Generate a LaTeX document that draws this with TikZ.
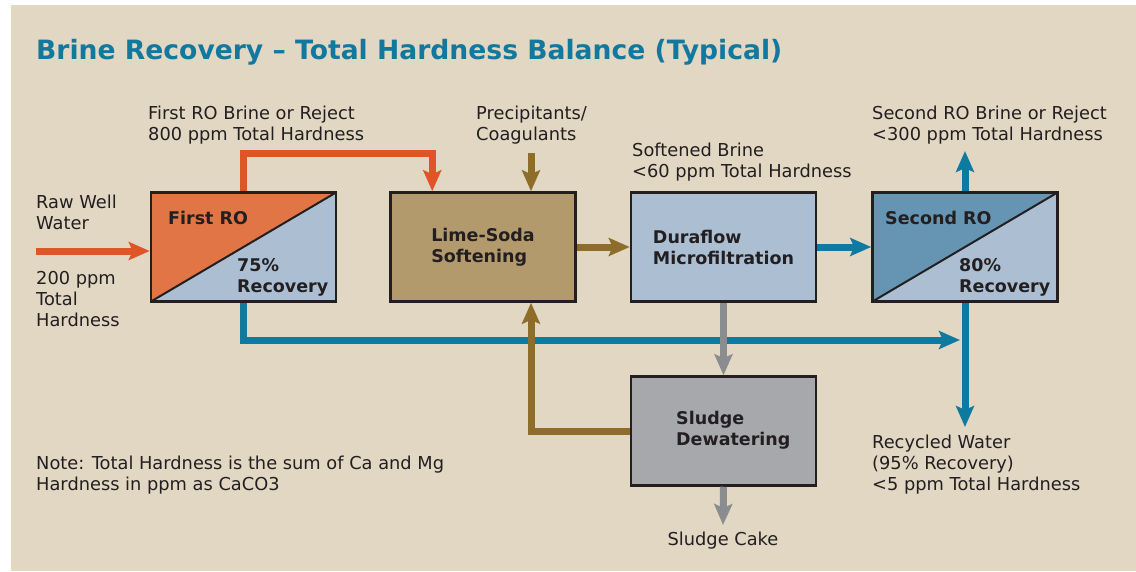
\documentclass[tikz,border=0pt]{standalone}
\usepackage{fontspec}
\setmainfont{DejaVu Sans}
\usetikzlibrary{arrows.meta}
\definecolor{bg}{HTML}{E1D7C3}
\definecolor{ink}{HTML}{231F20}
\definecolor{headblue}{HTML}{13789D}
\definecolor{waterblue}{HTML}{0E7A9F}
\definecolor{rejorange}{HTML}{E05527}
\definecolor{rofill}{HTML}{E27545}
\definecolor{permfill}{HTML}{ACBFD2}
\definecolor{ro2fill}{HTML}{6595B3}
\definecolor{limefill}{HTML}{B39A6C}
\definecolor{limebrown}{HTML}{8E6C2A}
\definecolor{sludgefill}{HTML}{A7A8AB}
\definecolor{sludgegray}{HTML}{8B8C90}
\begin{document}
\begin{tikzpicture}[x=1pt, y=-1pt, font=\fontsize{17.8}{21}\selectfont, text=ink,
  >={Stealth[length=21pt, width=18pt, inset=4pt]},
  box/.style={draw=ink, line width=2.5pt, minimum width=185pt, minimum height=109pt, inner sep=0pt,
    align=left, font=\bfseries\fontsize{17.5}{21}\selectfont},
  membrane/.style={box, fill=permfill, path picture={
    \fill[#1] (path picture bounding box.south west) -- (path picture bounding box.north west)
      -- (path picture bounding box.north east) -- cycle;
    \draw[ink, line width=2pt] (path picture bounding box.south west) -- (path picture bounding box.north east);}},
  txt/.style={anchor=north west, inner sep=0pt, align=left},
  boldtxt/.style={txt, font=\bfseries\fontsize{17.5}{21}\selectfont},
  flow/.style={line width=7pt, line join=miter, ->, draw=#1}]
\useasboundingbox (0,0) rectangle (1136,571);
\fill[bg] (11,5) rectangle (1136,571);

\node[txt, text=headblue, font=\bfseries\fontsize{26.6}{30}\selectfont] (title) at (36,39)
  {Brine Recovery – Total Hardness Balance (Typical)};

% process blocks
\node[membrane=rofill] (ro1) at (243.5,247) {};
\node[box, fill=limefill] (lime) at (483,247) {Lime-Soda\\Softening};
\node[box, fill=permfill] (dura) at (723.5,247) {Duraflow\\Microfiltration};
\node[membrane=ro2fill] (ro2) at (965,247) {};
\node[box, fill=sludgefill] (sludge) at (723.5,431) {};
\node[boldtxt] (sludgename) at (676,411) {Sludge\\Dewatering};

\node[boldtxt] (ro1name) at (168,211) {First RO};
\node[boldtxt] (ro1rec) at (237,258) {75\%\\Recovery};
\node[boldtxt] (ro2name) at (885,211) {Second RO};
\node[boldtxt] (ro2rec) at (959,258) {80\%\\Recovery};

% stream labels
\node[txt] (rawlbl) at (36,195) {Raw Well\\Water};
\node[txt] (rawhard) at (36,271) {200 ppm\\Total\\Hardness};
\node[txt] (rej1lbl) at (148,106) {First RO Brine or Reject\\800 ppm Total Hardness};
\node[txt] (chemlbl) at (476,106) {Precipitants/\\Coagulants};
\node[txt] (softlbl) at (632,143) {Softened Brine\\<60 ppm Total Hardness};
\node[txt] (rej2lbl) at (872,106) {Second RO Brine or Reject\\<300 ppm Total Hardness};
\node[txt] (recylbl) at (872,435) {Recycled Water\\(95\% Recovery)\\<5 ppm Total Hardness};
\node[anchor=north, inner sep=0pt] (cake) at (723,532) {Sludge Cake};
\node[txt] (note) at (36,456) {Note: Total Hardness is the sum of Ca and Mg\\Hardness in ppm as CaCO3};

\coordinate (raw) at (36,251);
\coordinate (chem) at (531,153);
\coordinate (mix) at (965,340);
\coordinate (rej2) at (965,151);
\coordinate (recy) at (965,427);

% flows
\draw[flow=waterblue] (ro1.south) |- ([xshift=-5pt]mix);
\draw[flow=rejorange] (raw) -- (raw -| ro1.west);
\draw[flow=rejorange] (ro1.north) -- ++(0,-38) -| ([xshift=43pt]lime.north west);
\draw[flow=limebrown] (chem) -- (chem |- lime.north);
\draw[flow=limebrown] (lime.east) -- (dura.west);
\draw[flow=waterblue] (dura.east) -- (ro2.west);
\draw[flow=waterblue] (ro2.north) -- (rej2);
\draw[flow=waterblue] (ro2.south) -- (recy);
\draw[flow=sludgegray] (dura.south) -- (sludge.north);
\draw[flow=sludgegray] (sludge.south) -- ([yshift=7pt]cake.north);
\draw[flow=limebrown] (sludge.west) -| (chem |- lime.south);
\end{tikzpicture}
\end{document}
